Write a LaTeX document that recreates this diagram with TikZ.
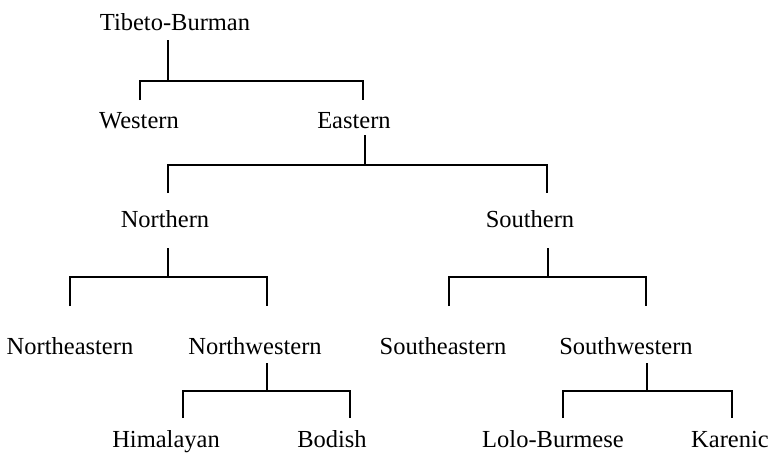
\documentclass[tikz,border=0pt]{standalone}
\usepackage{fontspec}
\setmainfont{Liberation Serif}
\usetikzlibrary{calc}
\begin{document}
\begin{tikzpicture}[x=1pt,y=-1pt,
  lbl/.style={anchor=base,inner sep=0pt,font=\fontsize{24.5}{28}\selectfont},
  conn/.style={line width=1.8pt,black}]
\useasboundingbox (0,0) rectangle (770,453);
% nodes
\node[lbl] (tb) at (175,30) {Tibeto-Burman};
\node[lbl] (west) at (139,128) {Western};
\node[lbl] (east) at (354,128) {Eastern};
\node[lbl] (north) at (165,227) {Northern};
\node[lbl] (south) at (530,227) {Southern};
\node[lbl] (ne) at (70,354) {Northeastern};
\node[lbl] (nw) at (255,354) {Northwestern};
\node[lbl] (se) at (443,354) {Southeastern};
\node[lbl] (sw) at (626,354) {Southwestern};
\node[lbl] (him) at (166,447) {Himalayan};
\node[lbl] (bod) at (332,447) {Bodish};
\node[lbl] (lolo) at (553,447) {Lolo-Burmese};
\node[lbl] (kar) at (730,447) {Karenic};
% connectors
\draw[conn] ($(tb.base)+(-7,10)$) -- ++(0,41);
\draw[conn] ($(west.base)+(1,-28)$) |- ($(east.base)+(9,-47)$) -- ($(east.base)+(9,-28)$);
\draw[conn] ($(east.base)+(11,7)$) -- ++(0,30);
\draw[conn] ($(north.base)+(3,-34)$) |- ($(south.base)+(17,-62)$) -- ($(south.base)+(17,-34)$);
\draw[conn] ($(north.base)+(3,21)$) -- ++(0,29);
\draw[conn] ($(ne.base)+(0,-48)$) |- ($(nw.base)+(12,-77)$) -- ($(nw.base)+(12,-48)$);
\draw[conn] ($(south.base)+(18,21)$) -- ++(0,29);
\draw[conn] ($(se.base)+(6,-48)$) |- ($(sw.base)+(20,-77)$) -- ($(sw.base)+(20,-48)$);
\draw[conn] ($(nw.base)+(12,9)$) -- ++(0,28);
\draw[conn] ($(him.base)+(17,-29)$) |- ($(bod.base)+(18,-56)$) -- ($(bod.base)+(18,-29)$);
\draw[conn] ($(sw.base)+(21,9)$) -- ++(0,28);
\draw[conn] ($(lolo.base)+(10,-29)$) |- ($(kar.base)+(2,-56)$) -- ($(kar.base)+(2,-29)$);
\end{tikzpicture}
\end{document}
